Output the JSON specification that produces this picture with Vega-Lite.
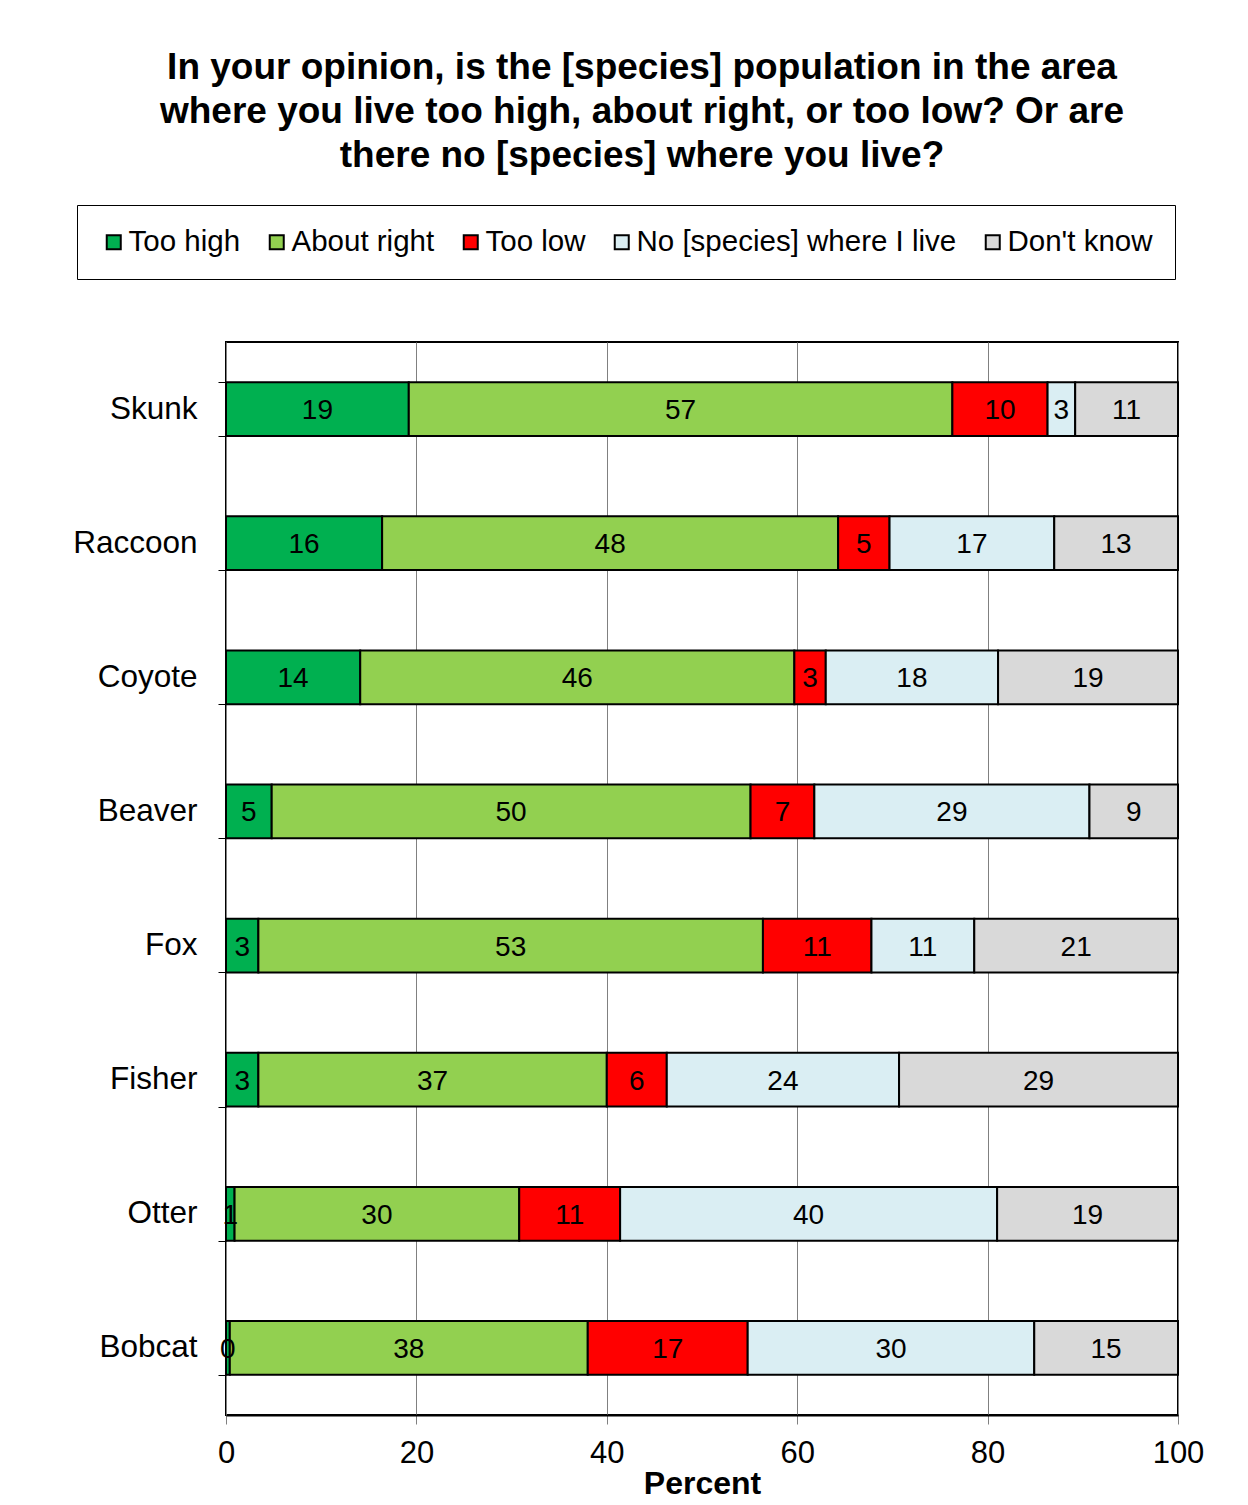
{
  "$schema": "https://vega.github.io/schema/vega-lite/v6.json",
  "width": 952,
  "height": 1073,
  "autosize": {"type": "none"},
  "padding": {"left": 226, "top": 342, "right": 70, "bottom": 90},
  "background": "white",
  "config": {"font": "Liberation Sans", "view": {"stroke": "black", "strokeWidth": 2}},
  "title": {
    "text": ["In your opinion, is the [species] population in the area", "where you live too high, about right, or too low? Or are", "there no [species] where you live?"],
    "fontSize": 37, "fontWeight": "bold", "font": "Liberation Sans", "color": "black",
    "anchor": "middle", "dx": -60, "lineHeight": 44, "offset": 30
  },
  "data": {"values": [
    {"species": "Skunk", "response": "Too high", "ri": 1, "value": 19.2},
    {"species": "Skunk", "response": "About right", "ri": 2, "value": 57.1},
    {"species": "Skunk", "response": "Too low", "ri": 3, "value": 10.0},
    {"species": "Skunk", "response": "No [species] where I live", "ri": 4, "value": 2.9},
    {"species": "Skunk", "response": "Don't know", "ri": 5, "value": 10.8},
    {"species": "Raccoon", "response": "Too high", "ri": 1, "value": 16.4},
    {"species": "Raccoon", "response": "About right", "ri": 2, "value": 47.9},
    {"species": "Raccoon", "response": "Too low", "ri": 3, "value": 5.4},
    {"species": "Raccoon", "response": "No [species] where I live", "ri": 4, "value": 17.3},
    {"species": "Raccoon", "response": "Don't know", "ri": 5, "value": 13.0},
    {"species": "Coyote", "response": "Too high", "ri": 1, "value": 14.1},
    {"species": "Coyote", "response": "About right", "ri": 2, "value": 45.6},
    {"species": "Coyote", "response": "Too low", "ri": 3, "value": 3.3},
    {"species": "Coyote", "response": "No [species] where I live", "ri": 4, "value": 18.1},
    {"species": "Coyote", "response": "Don't know", "ri": 5, "value": 18.9},
    {"species": "Beaver", "response": "Too high", "ri": 1, "value": 4.8},
    {"species": "Beaver", "response": "About right", "ri": 2, "value": 50.3},
    {"species": "Beaver", "response": "Too low", "ri": 3, "value": 6.7},
    {"species": "Beaver", "response": "No [species] where I live", "ri": 4, "value": 28.9},
    {"species": "Beaver", "response": "Don't know", "ri": 5, "value": 9.3},
    {"species": "Fox", "response": "Too high", "ri": 1, "value": 3.4},
    {"species": "Fox", "response": "About right", "ri": 2, "value": 53.0},
    {"species": "Fox", "response": "Too low", "ri": 3, "value": 11.4},
    {"species": "Fox", "response": "No [species] where I live", "ri": 4, "value": 10.8},
    {"species": "Fox", "response": "Don't know", "ri": 5, "value": 21.4},
    {"species": "Fisher", "response": "Too high", "ri": 1, "value": 3.4},
    {"species": "Fisher", "response": "About right", "ri": 2, "value": 36.6},
    {"species": "Fisher", "response": "Too low", "ri": 3, "value": 6.3},
    {"species": "Fisher", "response": "No [species] where I live", "ri": 4, "value": 24.4},
    {"species": "Fisher", "response": "Don't know", "ri": 5, "value": 29.3},
    {"species": "Otter", "response": "Too high", "ri": 1, "value": 0.9},
    {"species": "Otter", "response": "About right", "ri": 2, "value": 29.9},
    {"species": "Otter", "response": "Too low", "ri": 3, "value": 10.6},
    {"species": "Otter", "response": "No [species] where I live", "ri": 4, "value": 39.6},
    {"species": "Otter", "response": "Don't know", "ri": 5, "value": 19.0},
    {"species": "Bobcat", "response": "Too high", "ri": 1, "value": 0.4},
    {"species": "Bobcat", "response": "About right", "ri": 2, "value": 37.6},
    {"species": "Bobcat", "response": "Too low", "ri": 3, "value": 16.8},
    {"species": "Bobcat", "response": "No [species] where I live", "ri": 4, "value": 30.1},
    {"species": "Bobcat", "response": "Don't know", "ri": 5, "value": 15.1}
  ]},
  "transform": [
    {"stack": "value", "groupby": ["species"], "sort": [{"field": "ri", "order": "ascending"}], "as": ["v0", "v1"]}
  ],
  "encoding": {
    "y": {
      "field": "species", "type": "nominal",
      "sort": ["Skunk", "Raccoon", "Coyote", "Beaver", "Fox", "Fisher", "Otter", "Bobcat"],
      "scale": {"paddingInner": 0.6, "paddingOuter": 0.3},
      "axis": {
        "title": null, "labelFontSize": 31.5, "labelColor": "black", "labelFont": "Liberation Sans",
        "domain": false, "grid": false, "tickBand": "extent", "tickSize": 8, "tickColor": "black", "tickWidth": 1,
        "labelPadding": 21
      }
    }
  },
  "layer": [
    {
      "mark": {"type": "bar", "stroke": "black", "strokeWidth": 2},
      "encoding": {
        "x": {
          "field": "v0", "type": "quantitative",
          "scale": {"domain": [0, 100], "nice": false},
          "axis": {
            "title": "Percent", "titleFontSize": 32, "titleFontWeight": "bold", "titleColor": "black", "titleFont": "Liberation Sans",
            "labelFontSize": 31, "labelColor": "black", "labelFont": "Liberation Sans",
            "values": [0, 20, 40, 60, 80, 100], "grid": true, "gridColor": "#808080", "gridWidth": 1,
            "domainColor": "black", "domainWidth": 2, "tickColor": "#808080", "tickSize": 9, "tickWidth": 1,
            "labelPadding": 14, "titlePadding": 0, "labelFlush": false
          }
        },
        "x2": {"field": "v1"},
        "color": {
          "field": "response", "type": "nominal",
          "scale": {
            "domain": ["Too high", "About right", "Too low", "No [species] where I live", "Don't know"],
            "range": ["#00B050", "#92D050", "#FF0000", "#DAEEF3", "#D9D9D9"]
          },
          "legend": {
            "title": null, "orient": "none", "legendX": -149, "legendY": -137, "direction": "horizontal",
            "symbolType": "square", "symbolSize": 196, "symbolStrokeColor": "black", "symbolStrokeWidth": 2,
            "labelFontSize": 29.5, "labelColor": "black", "labelFont": "Liberation Sans", "labelLimit": 0,
            "strokeColor": "black", "fillColor": "white", "padding": 22, "columnPadding": 21, "labelOffset": 0
          }
        }
      }
    },
    {
      "transform": [
        {"fold": ["v0", "v1"], "as": ["edge", "pos"]},
        {"aggregate": [{"op": "mean", "field": "pos", "as": "mid"}], "groupby": ["species", "response", "value"]}
      ],
      "mark": {"type": "text", "fontSize": 28, "color": "black", "font": "Liberation Sans", "dy": 2},
      "encoding": {
        "x": {"field": "mid", "type": "quantitative"},
        "text": {"field": "value", "type": "quantitative", "format": ".0f"}
      }
    }
  ]
}
